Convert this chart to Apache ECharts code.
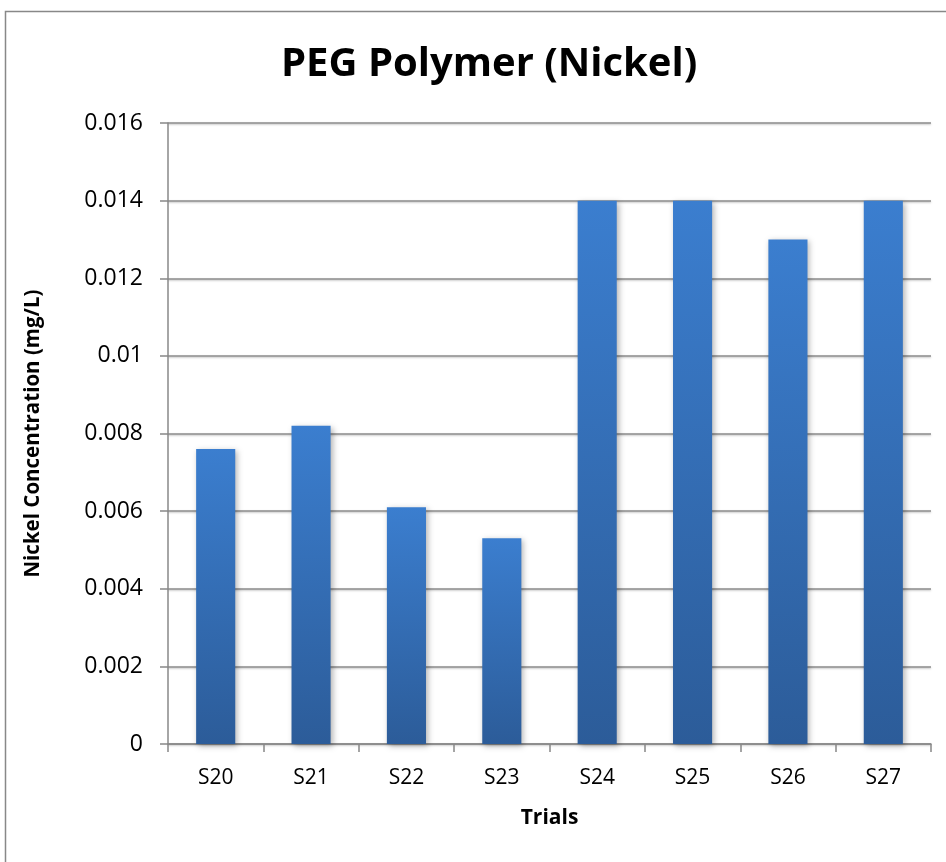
<!DOCTYPE html>
<html><head><meta charset="utf-8">
<script src="https://cdn.jsdelivr.net/npm/echarts@6/dist/echarts.min.js"></script>
<style>html,body{margin:0;padding:0;background:#fff}#c{width:946px;height:862px}</style>
</head><body><div id="c"></div>
<script>
const categories = ['S20','S21','S22','S23','S24','S25','S26','S27'];
const nickelValues = [0.0076, 0.0082, 0.0061, 0.0053, 0.014, 0.014, 0.013, 0.014];
const yTicks = [0, 0.002, 0.004, 0.006, 0.008, 0.01, 0.012, 0.014, 0.016];

const chart = echarts.init(document.getElementById('c'));
const font = '"Open Sans", "Noto Sans", sans-serif';
chart.setOption({
  animation: false,
  graphic: [{type:'rect', shape:{x:5.5,y:11.5,width:980,height:900}, style:{fill:'none',stroke:'#888',lineWidth:1.5}, z:-1}],
  title: {text:'PEG Polymer (Nickel)', left:276, top:40, textStyle:{fontFamily:font, fontWeight:'bold', fontSize:40, color:'#000'}},
  grid: {left:168, right:15, top:123, bottom:118},
  xAxis: {type:'category', data:categories, name:'Trials', nameLocation:'middle', nameGap:64,
    nameTextStyle:{fontFamily:font, fontWeight:'bold', fontSize:21, color:'#000'},
    axisLine:{lineStyle:{color:'#888', width:1.5}}, axisTick:{show:true, length:8, lineStyle:{color:'#888', width:1.5}},
    axisLabel:{fontFamily:font, fontSize:21, color:'#000', margin:24}},
  yAxis: {type:'value', min:0, max:0.016, interval:0.002, name:'Nickel Concentration (mg/L)', nameLocation:'middle', nameGap:124,
    nameTextStyle:{fontFamily:font, fontWeight:'bold', fontSize:20.5, color:'#000'},
    axisLine:{show:true, lineStyle:{color:'#888', width:1.5}}, axisTick:{show:true, length:8, inside:false, lineStyle:{color:'#888', width:1.5}},
    axisLabel:{fontFamily:font, fontSize:23, color:'#000', margin:25, formatter: v => yTicks.includes(+v.toFixed(3)) ? String(+v.toFixed(3)) : ''},
    splitLine:{lineStyle:{color:'#8c8c8c', width:1.5, shadowColor:'rgba(0,0,0,0.25)', shadowBlur:2, shadowOffsetY:1}}},
  series: [{type:'bar', data:nickelValues, barWidth:'41%',
    itemStyle:{color:new echarts.graphic.LinearGradient(0,0,0,1,[{offset:0,color:'#3b7ecf'},{offset:1,color:'#2c5c99'}]),
      shadowColor:'rgba(0,0,0,0.3)', shadowBlur:6, shadowOffsetX:2, shadowOffsetY:2}}]
});
</script></body></html>
